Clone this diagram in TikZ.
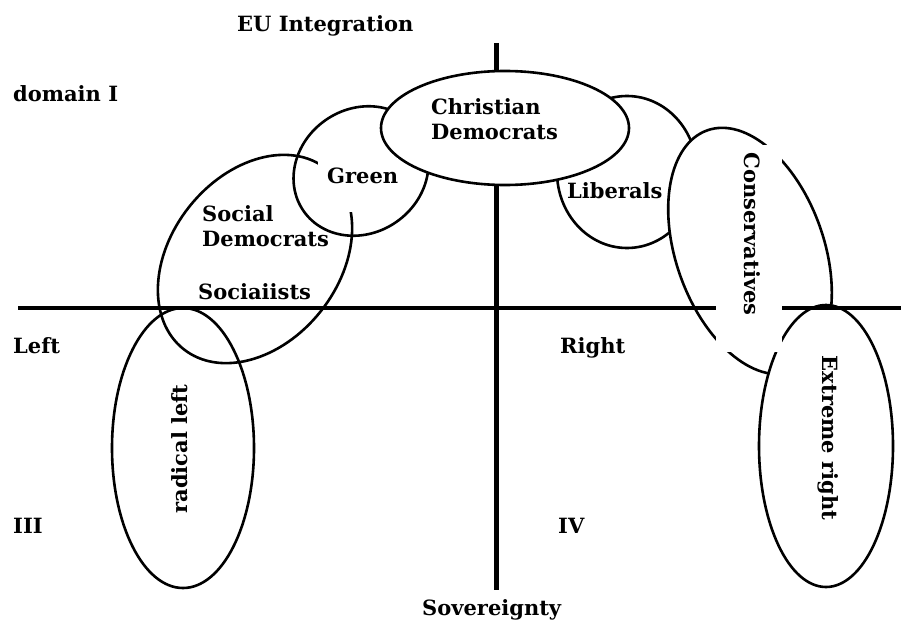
\documentclass[tikz,border=0pt]{standalone}
\usepackage{fontspec}
\setmainfont{DejaVu Serif}
\usetikzlibrary{shapes.geometric}
\tikzset{
    party/.style={draw, ellipse, line width=2.6pt, inner sep=0pt},
    cover/.style={party, fill=white},
    axis/.style={line width=4.5pt},
    mask/.style={fill=white, inner sep=0pt},
    lab/.style={font=\fontsize{21}{25}\selectfont\bfseries, inner sep=0pt, anchor=base west}
}

\begin{document}
\begin{tikzpicture}[x=1pt, y=-1pt]
\useasboundingbox (0,0) rectangle (901,623);
% party ellipses
\node[party, minimum width=140, minimum height=152] (lib) at (627,172) {};
\node[party, minimum width=140, minimum height=124, rotate=35] (green) at (361,171) {};
\node[party, minimum width=230, minimum height=168, rotate=51.6] (sd) at (255,259) {};
\node[party, minimum width=142, minimum height=280] (radleft) at (183,448) {};
\node[cover, minimum width=148, minimum height=256, rotate=19.5] (cons) at (750,251) {};
\node[cover, minimum width=134, minimum height=282] (extright) at (826,446) {};
% axes
\coordinate (west) at (18,308);
\coordinate (east) at (901,308);
\coordinate (north) at (496,43);
\coordinate (south) at (496,590);
\draw[axis] (west) -- (east);
\draw[axis, line width=5pt] (north) -- (south);
\node[cover, minimum width=248, minimum height=114] (cd) at (505,128) {};
% white patches behind labels
\node[mask, minimum width=80, minimum height=54] (greenmask) at (358,185) {};
\node[mask, minimum width=66, minimum height=207] (consmask) at (749,248.5) {};
% labels
\node[lab] (eu) at (237,32) {EU Integration};
\node[lab] (dom) at (13,102) {domain I};
\node[lab] (lefttxt) at (13,353) {Left};
\node[lab] (righttxt) at (560,353) {Right};
\node[lab] (q3) at (13,533) {III};
\node[lab] (q4) at (558,533) {IV};
\node[lab] (sov) at (422,615) {Sovereignty};
\node[lab, anchor=west, align=left] (cdlab) at (431,119.5) {Christian\\Democrats};
\node[lab] (greenlab) at (327,183) {Green};
\node[lab, anchor=west, align=left] (sdlab) at (202,226.5) {Social\\Democrats};
\node[lab] (soclab) at (198,299) {Sociaiists};
\node[lab] (liblab) at (567,198) {Liberals};
\node[lab, anchor=center, rotate=-90] (conslab) at (752,234) {Conservatives};
\node[lab, anchor=center, rotate=-90] (erlab) at (828,438) {Extreme right};
\node[lab, anchor=center, rotate=90] (rllab) at (180,449) {radical left};
\end{tikzpicture}
\end{document}
